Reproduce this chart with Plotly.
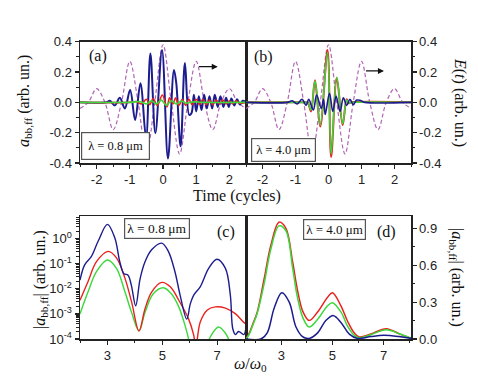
import plotly.graph_objects as go

W, H = 478, 382

# ---------------- data: panel (a)  (lambda = 0.8 um) ----------------
e_t = [-2.5, -2.25, -2.0, -1.75, -1.5, -1.25, -1.0, -0.75, -0.5, -0.25, 0.0,
       0.25, 0.5, 0.75, 1.0, 1.25, 1.5, 1.75, 2.0, 2.25, 2.5]
e_val = [-0.04, 0.0, 0.09, 0.0, -0.18, 0.0, 0.27, 0.0, -0.34, 0.0, 0.38,
         0.0, -0.34, 0.0, 0.27, 0.0, -0.18, 0.0, 0.09, 0.0, -0.04]

a_blue_t = [-2.5, -1.7, -1.6, -1.45, -1.3, -1.15, -0.99, -0.84, -0.68, -0.51, -0.38,
            -0.23, -0.03, 0.15, 0.33, 0.40, 0.53, 0.66, 0.79, 0.86, 0.93, 1.0,
            1.08, 1.16, 1.24, 1.32, 1.4, 1.48, 1.56, 1.65, 1.73, 1.82, 1.9,
            1.98, 2.06, 2.15, 2.23, 2.32, 2.4, 2.5]
a_blue_v = [0.0, 0.0, 0.01, -0.02, 0.03, -0.04, 0.081, -0.116, 0.126, -0.237, 0.323,
            -0.204, 0.345, -0.37, 0.213, 0.126, -0.29, 0.26, -0.083, -0.07, 0.05, -0.06,
            0.04, -0.05, 0.05, -0.04, 0.04, -0.04, 0.05, -0.03, 0.04, -0.03, 0.03,
            -0.03, 0.025, -0.02, 0.02, -0.015, 0.01, 0.0]

a_red_t = [-2.5, -1.0, -0.8, -0.65, -0.5, -0.4, -0.3, -0.17, -0.02, 0.12, 0.2, 0.3,
           0.38, 0.48, 0.58, 0.68, 0.78, 0.88, 1.0, 1.1, 1.2, 1.3, 1.4, 1.5, 1.6,
           1.7, 1.8, 1.9, 2.0, 2.1, 2.2, 2.3, 2.5]
a_red_v = [0.0, 0.0, 0.005, -0.01, 0.02, -0.015, 0.025, -0.02, 0.048, -0.03, 0.03, -0.01,
           0.03, -0.02, 0.02, -0.02, 0.02, -0.015, 0.02, -0.015, 0.02, -0.015, 0.015, -0.015, 0.015,
           -0.01, 0.015, -0.01, 0.01, -0.01, 0.01, -0.005, 0.0]

a_green_t = [-2.5, -1.0, -0.7, -0.5, -0.35, -0.2, -0.05, 0.1, 0.25, 0.4, 0.55, 0.7, 0.9, 1.2, 2.5]
a_green_v = [0.0, 0.0, 0.005, -0.01, 0.01, -0.01, 0.015, -0.02, 0.01, -0.01, 0.008, -0.005, 0.003, 0.0, 0.0]

# ---------------- data: panel (b)  (lambda = 4.0 um) ----------------
b_blue_t = [-2.5, -1.25, -1.1, -0.95, -0.8, -0.68, -0.6, -0.46, -0.36, -0.22, -0.15,
            -0.1, 0.03, 0.13, 0.23, 0.35, 0.45, 0.55, 0.65, 0.75, 0.85, 0.97, 1.1, 2.5]
b_blue_v = [0.0, 0.0, 0.01, -0.01, 0.02, -0.02, 0.02, -0.05, 0.048, -0.04, 0.02,
            -0.08, 0.06, -0.06, 0.04, -0.06, 0.03, -0.02, 0.02, -0.015, 0.015, 0.012, 0.0, 0.0]

b_red_t = [-2.5, -0.7, -0.63, -0.53, -0.41, -0.25, -0.03, 0.08, 0.25, 0.43, 0.55, 0.62, 0.7, 2.5]
b_red_v = [0.0, 0.0, 0.0, -0.06, 0.145, -0.16, 0.345, -0.36, 0.16, -0.15, 0.02, -0.005, 0.0, 0.0]

b_green_t = [-2.5, -0.7, -0.63, -0.53, -0.41, -0.25, -0.03, 0.08, 0.25, 0.43, 0.55, 0.62, 0.7, 2.5]
b_green_v = [0.0, 0.0, 0.0, -0.05, 0.14, -0.15, 0.33, -0.34, 0.165, -0.14, 0.015, -0.004, 0.0, 0.0]

# ---------------- data: panel (c)  spectra, lambda = 0.8 um (log) ----------------
c_blue_w = [2.0, 2.17, 2.41, 2.66, 3.0, 3.27, 3.45, 3.6, 3.75, 3.87, 4.03, 4.19, 4.37,
            4.61, 4.98, 5.22, 5.46, 5.65, 5.89, 6.02, 6.14, 6.38, 6.69, 6.99, 7.3,
            7.48, 7.57, 7.67, 7.78, 7.97, 8.05]
c_blue_v = [0.022, 0.09, 0.19, 0.78, 3.7, 1.05, 0.12, 0.04, 0.035, 0.014, 0.0021, 0.025, 0.12,
            0.36, 0.66, 0.31, 0.048, 0.0055, 0.00062, 0.0025, 0.0055, 0.012, 0.065, 0.15, 0.065,
            0.0055, 0.00025, 0.00015, 0.0002, 0.00015, 0.0003]

c_red_w = [2.0, 2.29, 2.6, 3.03, 3.33, 3.64, 3.88, 4.15, 4.37, 4.61, 4.98, 5.29, 5.6,
           5.96, 6.14, 6.22, 6.38, 6.63, 6.93, 7.3, 7.67, 7.97, 8.05]
c_red_v = [0.0035, 0.019, 0.12, 0.31, 0.17, 0.026, 0.003, 0.00021, 0.0016, 0.0074, 0.018, 0.012, 0.0035,
           0.00062, 0.00015, 0.00005, 0.00046, 0.0014, 0.0019, 0.0017, 0.001, 0.00046, 0.0004]

c_green_w = [2.0, 2.29, 2.6, 3.0, 3.33, 3.64, 3.88, 4.15, 4.37, 4.67, 5.04, 5.33, 5.6,
             5.83, 5.98, 6.1, 6.4, 6.65, 6.8, 7.05, 7.3, 7.45, 7.6, 8.05]
c_green_v = [0.001, 0.0074, 0.048, 0.14, 0.065, 0.0074, 0.00115, 0.00021, 0.00115, 0.0063, 0.011, 0.0063, 0.0019,
             0.00034, 0.00008, 0.00002, 0.00001, 0.00007, 0.00015, 0.0003, 0.00017, 0.00008, 0.00002, 0.00001]

# ---------------- data: panel (d)  spectra, lambda = 4.0 um (linear) ----------------
d_w = [1.62, 1.75, 1.9, 2.06, 2.33, 2.59, 2.91, 3.18, 3.44, 3.63, 3.85, 4.09, 4.42,
       4.81, 5.0, 5.33, 5.6, 5.85, 6.05, 6.5, 7.1, 7.64, 8.07]
d_red_v = [0.0, 0.05, 0.13, 0.22, 0.49, 0.76, 0.95, 0.90, 0.63, 0.40, 0.22, 0.15, 0.22,
           0.34, 0.376, 0.27, 0.14, 0.05, 0.016, 0.04, 0.084, 0.04, 0.005]
d_green_v = [0.0, 0.04, 0.12, 0.21, 0.45, 0.73, 0.92, 0.88, 0.58, 0.34, 0.17, 0.097, 0.16,
             0.27, 0.295, 0.22, 0.10, 0.03, 0.01, 0.035, 0.075, 0.04, 0.005]
d_blue_w = [1.62, 2.2, 2.45, 2.72, 3.02, 3.31, 3.57, 3.83, 4.09, 4.42, 4.74, 5.04, 5.33,
            5.66, 5.98, 6.5, 7.0, 7.6, 8.07]
d_blue_v = [0.0, 0.0, 0.05, 0.25, 0.376, 0.30, 0.10, 0.02, 0.005, 0.05, 0.15, 0.19, 0.135,
            0.04, 0.005, 0.02, 0.03, 0.02, 0.005]

top_ticks = [-2, -1, 0, 1, 2]
top_yticks = [-0.4, -0.2, 0.0, 0.2, 0.4]
w_ticks = [3, 5, 7]
log_ticks = [1e-4, 1e-3, 1e-2, 1e-1, 1]
log_ticktext = ["10<sup>-4</sup>", "10<sup>-3</sup>", "10<sup>-2</sup>", "10<sup>-1</sup>", "10<sup>0</sup>"]
lin_ticks = [0.0, 0.3, 0.6, 0.9]

# ---------------- styles ----------------
BLUE = "#1c1c8f"
RED = "#e8231f"
GREEN = "#3ad83a"
PURPLE = "#b066b4"
AX = "#222222"
SERIF = "Liberation Serif"
SANS = "Liberation Sans"


def px(x):
    return x / W


def py(y):
    return 1 - y / H


fig = go.Figure()


def line(x, y, color, width, xa, ya, dash=None):
    fig.add_trace(go.Scatter(x=x, y=y, mode="lines", xaxis=xa, yaxis=ya,
                             line=dict(color=color, width=width, shape="spline",
                                       smoothing=1.0, dash=dash),
                             showlegend=False, hoverinfo="skip"))


DASH = "4px,2.5px"
# (a)
line(e_t, e_val, PURPLE, 1.2, "x", "y", DASH)
line(a_blue_t, a_blue_v, BLUE, 2.0, "x", "y")
line(a_red_t, a_red_v, RED, 1.6, "x", "y")
line(a_green_t, a_green_v, GREEN, 1.6, "x", "y")
# (b)
line(e_t, e_val, PURPLE, 1.2, "x2", "y2", DASH)
line(b_red_t, b_red_v, RED, 2.0, "x2", "y2")
line(b_green_t, b_green_v, GREEN, 1.6, "x2", "y2")
line(b_blue_t, b_blue_v, BLUE, 1.6, "x2", "y2")
# (c)
line(c_green_w, c_green_v, GREEN, 1.4, "x3", "y3")
line(c_red_w, c_red_v, RED, 1.4, "x3", "y3")
line(c_blue_w, c_blue_v, BLUE, 1.4, "x3", "y3")
# (d)
line(d_w, d_red_v, RED, 1.5, "x4", "y4")
line(d_w, d_green_v, GREEN, 1.5, "x4", "y4")
line(d_blue_w, d_blue_v, BLUE, 1.5, "x4", "y4")

base = dict(showline=True, linecolor=AX, linewidth=1.5, mirror=True,
            ticks="outside", ticklen=4, tickwidth=1.2, tickcolor=AX,
            showgrid=False, zeroline=False, automargin=False,
            tickfont=dict(family=SANS, size=13, color=AX))
minor_base = dict(ticks="outside", ticklen=2.5, tickwidth=1, tickcolor=AX)

xa_dom = [px(80), px(246)]
xb_dom = [px(246), px(411)]
yt_dom = [py(163), py(41.7)]
yb_dom = [py(339), py(216)]

minor_log = [k * 10 ** n for n in range(-4, 1) for k in range(2, 10) if k * 10 ** n < 8]

fig.update_layout(
    width=W, height=H, margin=dict(l=0, r=0, t=0, b=0),
    paper_bgcolor="white", plot_bgcolor="white", showlegend=False,
    xaxis=dict(base, domain=xa_dom, anchor="y", range=[-2.5, 2.5],
               tickmode="array", tickvals=top_ticks, ticktext=[str(v) for v in top_ticks],
               minor=dict(minor_base, dtick=0.5, tick0=0)),
    yaxis=dict(base, domain=yt_dom, anchor="x", range=[-0.4, 0.4],
               tickmode="array", tickvals=top_yticks, ticktext=["%.1f" % v for v in top_yticks],
               minor=dict(minor_base, dtick=0.1, tick0=0)),
    xaxis2=dict(base, domain=xb_dom, anchor="y2", range=[-2.5, 2.5],
                tickmode="array", tickvals=top_ticks, ticktext=[str(v) for v in top_ticks],
                minor=dict(minor_base, dtick=0.5, tick0=0)),
    yaxis2=dict(base, domain=yt_dom, anchor="x2", side="right", range=[-0.4, 0.4],
                tickmode="array", tickvals=top_yticks, ticktext=["%.1f" % v for v in top_yticks],
                minor=dict(minor_base, dtick=0.1, tick0=0)),
    xaxis3=dict(base, domain=xa_dom, anchor="y3", range=[2.0, 8.05],
                tickmode="array", tickvals=w_ticks, ticktext=[str(v) for v in w_ticks],
                minor=dict(minor_base, tickmode="array", tickvals=[2, 4, 6, 8])),
    yaxis3=dict(base, domain=yb_dom, anchor="x3", type="log", range=[-4, 0.9],
                tickmode="array", tickvals=log_ticks, ticktext=log_ticktext,
                minor=dict(minor_base, tickmode="array", tickvals=minor_log)),
    xaxis4=dict(base, domain=xb_dom, anchor="y4", range=[1.62, 8.07],
                tickmode="array", tickvals=w_ticks, ticktext=[str(v) for v in w_ticks],
                minor=dict(minor_base, tickmode="array", tickvals=[2, 4, 6, 8])),
    yaxis4=dict(base, domain=yb_dom, anchor="x4", side="right", range=[0, 1.0],
                tickmode="array", tickvals=lin_ticks, ticktext=["%.1f" % v for v in lin_ticks],
                minor=dict(minor_base, dtick=0.15, tick0=0)),
)

ann = []


def text(x, y, s, size=16, angle=0, **kw):
    ann.append(dict(x=px(x), y=py(y), xref="paper", yref="paper", text=s, showarrow=False,
                    textangle=angle, xanchor="center", yanchor="middle",
                    font=dict(family=SERIF, size=size, color="#111"), **kw))


def box(x, y, s, size, pad):
    ann.append(dict(x=px(x), y=py(y), xref="paper", yref="paper", text=s, showarrow=False,
                    xanchor="center", yanchor="middle", bgcolor="white",
                    bordercolor="#555", borderwidth=1.2, borderpad=pad,
                    font=dict(family=SERIF, size=size, color="#111")))


text(98, 56, "(a)", 16)
text(263, 57, "(b)", 16)
text(226, 232, "(c)", 16)
text(386, 232, "(d)", 16)
box(115, 146, "λ = 0.8 μm", 12.5, 6)
box(283.3, 150, "λ = 4.0 μm", 12.5, 4)
box(157.2, 228.7, "λ = 0.8 μm", 13.5, 2)
box(334.3, 229, "λ = 4.0 μm", 13, 2)
text(24, 101, "<i>a</i><sub>bb,ff</sub> (arb. un.)", 16, -90)
text(460, 102, "<i>E</i>(<i>t</i>) (arb. un.)", 16, 90)
text(237, 196, "Time (cycles)", 16)
text(40, 280, "|<i>a</i><sub>bb,ff</sub>| (arb. un.)", 16, -90)
text(457, 277, "|<i>a</i><sub>bb,ff</sub>| (arb. un.)", 16, 90)
text(250, 364, "<i>ω</i>/<i>ω</i><sub>0</sub>", 16)

# arrows marking the field curve (right axis)
ann.append(dict(x=1.65, y=0.235, ax=1.04, ay=0.235, xref="x", yref="y", axref="x", ayref="y",
                text="", showarrow=True, arrowhead=2, arrowsize=1, arrowwidth=1.2, arrowcolor="#111"))
ann.append(dict(x=1.68, y=0.207, ax=1.09, ay=0.207, xref="x2", yref="y2", axref="x2", ayref="y2",
                text="", showarrow=True, arrowhead=2, arrowsize=1, arrowwidth=1.2, arrowcolor="#111"))

fig.update_layout(annotations=ann)
fig.write_html("out.html", config={"displayModeBar": False, "staticPlot": True},
               post_script="document.body.style.margin='0';")
